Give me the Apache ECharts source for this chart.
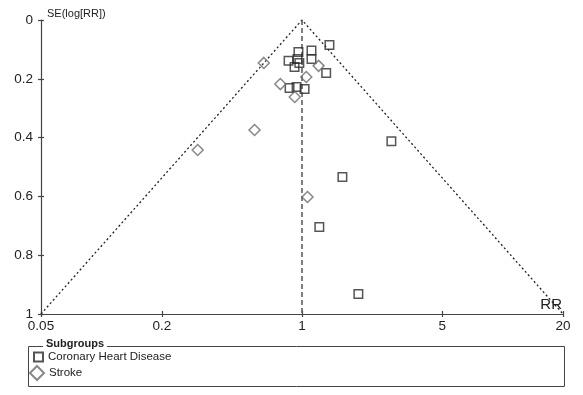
<!DOCTYPE html>
<html>
<head>
<meta charset="utf-8">
<script src="https://cdn.jsdelivr.net/npm/echarts@6/dist/echarts.min.js"></script>
<style>
html,body{margin:0;padding:0;background:#fff;}
#chart{width:583px;height:395px;}
</style>
</head>
<body>
<div id="chart"></div>
<script>
// Data
const xTicks = [0.05, 0.2, 1, 5, 20];
const yTicks = [0, 0.2, 0.4, 0.6, 0.8, 1];
const chdRR = [1.37, 0.96, 1.115, 1.115, 0.857, 0.95, 0.97, 0.918, 1.32, 0.867, 0.94, 1.03, 1.59, 2.79, 1.22, 1.91];
const chdSE = [0.085, 0.109, 0.104, 0.133, 0.139, 0.133, 0.146, 0.16, 0.18, 0.231, 0.228, 0.235, 0.534, 0.412, 0.704, 0.932];
const strokeRR = [0.645, 1.21, 1.05, 0.78, 0.92, 0.58, 0.302, 1.065];
const strokeSE = [0.146, 0.156, 0.194, 0.218, 0.262, 0.374, 0.442, 0.602];
const funnelRR = [0.05, 1, 20];
const funnelSE = [1, 0, 1];
const pooledRR = [1, 1];
const pooledSE = [0, 1];
const seriesNames = ['Coronary Heart Disease', 'Stroke'];

const font = '"Liberation Sans", Arial, sans-serif';
const zip = (a, b) => a.map((v, i) => [v, b[i]]);
const gridBox = {left: 41, right: 20, top: 20, bottom: 81, containLabel: false};

const baseX = {
  type: 'log', logBase: 10, min: 0.05, max: 20, position: 'bottom',
  splitLine: {show: false}, minorTick: {show: false}
};
const baseY = {
  type: 'value', min: 0, max: 1, interval: 0.2, inverse: true, position: 'left',
  splitLine: {show: false}
};
const tickStyle = {color: '#444', width: 1.2};

const chart = echarts.init(document.getElementById('chart'), null, {renderer: 'canvas'});
chart.setOption({
  animation: false,
  backgroundColor: '#fff',
  textStyle: {fontFamily: font},
  grid: [Object.assign({}, gridBox), Object.assign({}, gridBox)],
  xAxis: [
    Object.assign({}, baseX, {
      gridIndex: 0,
      name: 'RR', nameLocation: 'end', nameGap: -1,
      nameTextStyle: {fontSize: 15, color: '#222', fontFamily: font, align: 'right', verticalAlign: 'bottom', padding: [0, 0, 2, 0]},
      axisLine: {show: true, onZero: false, lineStyle: {color: '#444', width: 1.2}},
      axisTick: {show: true, length: 3, inside: false, customValues: xTicks, lineStyle: tickStyle},
      axisLabel: {show: true, customValues: xTicks, margin: 5, fontSize: 13.5, color: '#222', fontFamily: font,
        formatter: v => String(+Number(v).toPrecision(3))}
    }),
    Object.assign({}, baseX, {
      gridIndex: 1,
      axisLine: {show: false, onZero: false},
      axisTick: {show: true, length: 3, inside: true, customValues: xTicks, lineStyle: tickStyle},
      axisLabel: {show: false}
    })
  ],
  yAxis: [
    Object.assign({}, baseY, {
      gridIndex: 0,
      name: 'SE(log[RR])', nameLocation: 'start', nameGap: 6,
      nameTextStyle: {fontSize: 11, color: '#222', fontFamily: font, align: 'left', verticalAlign: 'middle', padding: [0, 0, 0, 6]},
      axisLine: {show: true, onZero: false, lineStyle: {color: '#444', width: 1.2}},
      axisTick: {show: true, length: 3, inside: false, lineStyle: tickStyle},
      axisLabel: {show: true, margin: 8, fontSize: 13.5, color: '#222', fontFamily: font,
        formatter: v => String(+Number(v).toFixed(1)).replace(/\.0$/, '')}
    }),
    Object.assign({}, baseY, {
      gridIndex: 1,
      axisLine: {show: false, onZero: false},
      axisTick: {show: true, length: 3, inside: true, lineStyle: tickStyle},
      axisLabel: {show: false}
    })
  ],
  legend: [
    {
      data: [seriesNames[0]], orient: 'vertical', left: 33, top: 351, padding: 0,
      itemWidth: 9, itemHeight: 9, itemGap: 0, selectedMode: false,
      textStyle: {fontSize: 11.5, color: '#222', fontFamily: font}
    },
    {
      data: [seriesNames[1]], orient: 'vertical', left: 29, top: 365, padding: 0,
      itemWidth: 14, itemHeight: 14, itemGap: 0, selectedMode: false,
      textStyle: {fontSize: 11.5, color: '#222', fontFamily: font}
    }
  ],
  graphic: [
    {type: 'rect', left: 26, top: 344, shape: {width: 536, height: 40},
      style: {fill: 'none', stroke: '#444', lineWidth: 1}, z: 0, silent: true},
    {type: 'text', left: 43, top: 338, z: 10, silent: true,
      style: {text: 'Subgroups', font: 'bold 11px ' + font, fill: '#222',
        backgroundColor: '#fff', padding: [0, 3, 0, 3]}}
  ],
  series: [
    {
      name: 'funnel', type: 'line', xAxisIndex: 0, yAxisIndex: 0,
      data: zip(funnelRR, funnelSE), symbol: 'none', silent: true,
      lineStyle: {color: '#222', width: 1.3, type: [2, 2.5]}, z: 1
    },
    {
      name: 'pooled', type: 'line', xAxisIndex: 0, yAxisIndex: 0,
      data: zip(pooledRR, pooledSE), symbol: 'none', silent: true,
      lineStyle: {color: '#555', width: 1.5, type: [5, 3]}, z: 1
    },
    {
      name: seriesNames[0], type: 'scatter', xAxisIndex: 0, yAxisIndex: 0,
      data: zip(chdRR, chdSE), symbol: 'rect', symbolSize: 8.5,
      itemStyle: {color: 'rgba(255,255,255,0)', borderColor: '#2a2a2a', borderWidth: 1.5}, z: 3
    },
    {
      name: seriesNames[1], type: 'scatter', xAxisIndex: 0, yAxisIndex: 0,
      data: zip(strokeRR, strokeSE), symbol: 'diamond', symbolSize: 11,
      itemStyle: {color: 'rgba(255,255,255,0)', borderColor: '#6a6a6a', borderWidth: 1.5}, z: 3
    }
  ]
});
</script>
</body>
</html>
